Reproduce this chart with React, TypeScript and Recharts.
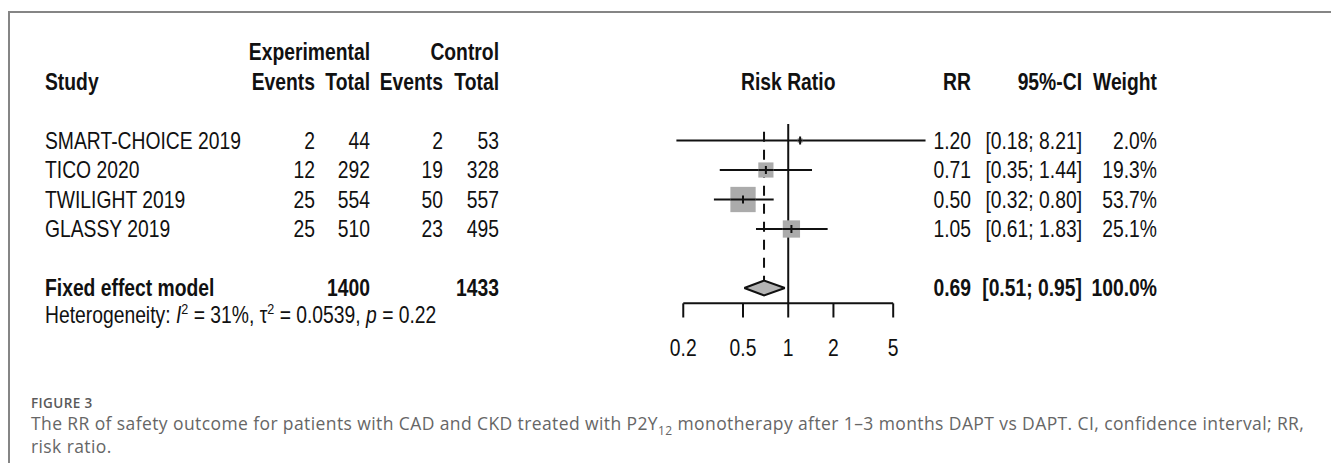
import React from 'react'
import { ComposedChart, XAxis, YAxis, Scatter, ErrorBar, Area, ReferenceLine } from 'recharts'

// study table
const STUDIES = ['SMART-CHOICE 2019', 'TICO 2020', 'TWILIGHT 2019', 'GLASSY 2019']
const EXP_EVENTS = [2, 12, 25, 25]
const EXP_TOTAL = [44, 292, 554, 510]
const CTRL_EVENTS = [2, 19, 50, 23]
const CTRL_TOTAL = [53, 328, 557, 495]
const RR = [1.2, 0.71, 0.5, 1.05]
const CI_LOW = [0.18, 0.35, 0.32, 0.61]
const CI_HIGH = [8.21, 1.44, 0.8, 1.83]
const WEIGHT = [2.0, 19.3, 53.7, 25.1]

// fixed effect model
const POOLED_RR = 0.69
const POOLED_LOW = 0.51
const POOLED_HIGH = 0.95
const POOLED_EXP_TOTAL = 1400
const POOLED_CTRL_TOTAL = 1433
const POOLED_WEIGHT = 100.0

const TICKS = [0.2, 0.5, 1, 2, 5]

// row layout (y axis units, one unit per table row)
const ROW_HEAD1 = -3
const ROW_HEAD2 = -2
const ROW_POOLED = 5
const ROW_HET = 5.9
const ROW_AXIS = 5.52
const ROW_TICK_END = 6.0
const ROW_TICK_LABEL = 7.03

const W = 1331
const H = 463
const INK = '#111'
const BOX = '#ababab'
const FONT = "'Liberation Sans', Arial, Helvetica, sans-serif"

// text columns (right edges unless noted)
const COL_STUDY = 45
const COL_EXP_EV = 315
const COL_EXP_TOT = 370
const COL_CTRL_EV = 443
const COL_CTRL_TOT = 499
const COL_RR = 971
const COL_CI = 1082
const COL_WEIGHT = 1157

const fmtCi = (lo: number, hi: number) => `[${lo.toFixed(2)}; ${hi.toFixed(2)}]`

function T({ x, y, anchor = 'end', bold = false, children }: any) {
  return (
    <text
      transform={`translate(${x} ${y + 8.3}) scale(0.84 1)`}
      textAnchor={anchor}
      fontFamily={FONT}
      fontSize={23}
      fontWeight={bold ? 700 : 400}
      fill={INK}
    >
      {children}
    </text>
  )
}

const rowData = [
  { x: 1, y: ROW_HEAD1, kind: 'head1' },
  { x: 1, y: ROW_HEAD2, kind: 'head2' },
  ...STUDIES.map((_, i) => ({ x: 1, y: i, kind: 'study', i })),
  { x: 1, y: ROW_POOLED, kind: 'pooled' },
  { x: 1, y: ROW_HET, kind: 'het' },
]

const studyPoints = STUDIES.map((_, i) => ({
  x: RR[i],
  y: i,
  err: [RR[i] - CI_LOW[i], CI_HIGH[i] - RR[i]],
  w: WEIGHT[i],
}))

const diamond = [
  { x: POOLED_LOW, band: [ROW_POOLED, ROW_POOLED] },
  { x: POOLED_RR, band: [ROW_POOLED - 0.25, ROW_POOLED + 0.25] },
  { x: POOLED_HIGH, band: [ROW_POOLED, ROW_POOLED] },
]

const tickLabels = TICKS.map((t) => ({ x: t, y: ROW_TICK_LABEL }))

function RowShape(props: any) {
  const { cx, cy, payload } = props
  const k = payload.kind
  if (k === 'head1') {
    return (
      <g>
        <T x={COL_EXP_TOT} y={cy} bold>Experimental</T>
        <T x={COL_CTRL_TOT} y={cy} bold>Control</T>
      </g>
    )
  }
  if (k === 'head2') {
    return (
      <g>
        <T x={COL_STUDY} y={cy} anchor="start" bold>Study</T>
        <T x={COL_EXP_EV} y={cy} bold>Events</T>
        <T x={COL_EXP_TOT} y={cy} bold>Total</T>
        <T x={COL_CTRL_EV} y={cy} bold>Events</T>
        <T x={COL_CTRL_TOT} y={cy} bold>Total</T>
        <T x={cx} y={cy} anchor="middle" bold>Risk Ratio</T>
        <T x={COL_RR} y={cy} bold>RR</T>
        <T x={COL_CI} y={cy} bold>95%-CI</T>
        <T x={COL_WEIGHT} y={cy} bold>Weight</T>
      </g>
    )
  }
  if (k === 'study') {
    const i = payload.i
    return (
      <g>
        <T x={COL_STUDY} y={cy} anchor="start">{STUDIES[i]}</T>
        <T x={COL_EXP_EV} y={cy}>{EXP_EVENTS[i]}</T>
        <T x={COL_EXP_TOT} y={cy}>{EXP_TOTAL[i]}</T>
        <T x={COL_CTRL_EV} y={cy}>{CTRL_EVENTS[i]}</T>
        <T x={COL_CTRL_TOT} y={cy}>{CTRL_TOTAL[i]}</T>
        <T x={COL_RR} y={cy}>{RR[i].toFixed(2)}</T>
        <T x={COL_CI} y={cy}>{fmtCi(CI_LOW[i], CI_HIGH[i])}</T>
        <T x={COL_WEIGHT} y={cy}>{WEIGHT[i].toFixed(1)}%</T>
      </g>
    )
  }
  if (k === 'pooled') {
    return (
      <g>
        <T x={COL_STUDY} y={cy} anchor="start" bold>Fixed effect model</T>
        <T x={COL_EXP_TOT} y={cy} bold>{POOLED_EXP_TOTAL}</T>
        <T x={COL_CTRL_TOT} y={cy} bold>{POOLED_CTRL_TOTAL}</T>
        <T x={COL_RR} y={cy} bold>{POOLED_RR.toFixed(2)}</T>
        <T x={COL_CI} y={cy} bold>{fmtCi(POOLED_LOW, POOLED_HIGH)}</T>
        <T x={COL_WEIGHT} y={cy} bold>{POOLED_WEIGHT.toFixed(1)}%</T>
      </g>
    )
  }
  return (
    <T x={COL_STUDY} y={cy} anchor="start">
      Heterogeneity: <tspan fontStyle="italic">I</tspan>
      <tspan fontSize={15} dy={-9}>2</tspan>
      <tspan dy={9}> = 31%, τ</tspan>
      <tspan fontSize={15} dy={-9}>2</tspan>
      <tspan dy={9}> = 0.0539, </tspan>
      <tspan fontStyle="italic">p</tspan> = 0.22
    </T>
  )
}

function BoxShape({ cx, cy, payload }: any) {
  const s = 3.45 * Math.sqrt(payload.w)
  return (
    <g>
      <rect x={cx - s / 2} y={cy - s / 2} width={s} height={s} fill={BOX} />
      <line x1={cx - s / 2} x2={cx + s / 2} y1={cy} y2={cy} stroke={INK} strokeWidth={2} />
      <line x1={cx} x2={cx} y1={cy - 4} y2={cy + 4} stroke={INK} strokeWidth={2} />
    </g>
  )
}

function TickLabel({ cx, cy, payload }: any) {
  return <T x={cx} y={cy} anchor="middle">{payload.x}</T>
}

export default function App() {
  return (
    <div style={{ position: 'absolute', left: 0, top: 0, width: W, height: H, background: '#fff', overflow: 'hidden' }}>
      <div
        style={{
          position: 'absolute',
          left: 8,
          top: 11,
          width: W,
          height: H,
          borderTop: '2px solid #858585',
          borderLeft: '2px solid #858585',
        }}
      />
      <div style={{ position: 'absolute', left: 0, top: 0 }}>
        <ComposedChart width={W} height={H} margin={{ top: 7.75, right: 392.6, bottom: 101.25, left: 664.5 }}>
          <XAxis type="number" dataKey="x" scale="log" domain={[0.15, 10]} hide />
          <YAxis type="number" dataKey="y" domain={[-4.5, 7.5]} reversed hide />
          <ReferenceLine
            segment={[{ x: 1, y: -0.56 }, { x: 1, y: ROW_AXIS }]}
            stroke={INK}
            strokeWidth={2}
          />
          <ReferenceLine
            segment={[{ x: POOLED_RR, y: -0.3 }, { x: POOLED_RR, y: ROW_POOLED - 0.25 }]}
            stroke={INK}
            strokeWidth={2}
            strokeDasharray="10 8"
          />
          <ReferenceLine
            segment={[{ x: TICKS[0], y: ROW_AXIS }, { x: TICKS[TICKS.length - 1], y: ROW_AXIS }]}
            stroke={INK}
            strokeWidth={2}
          />
          {TICKS.map((t) => (
            <ReferenceLine
              key={t}
              segment={[{ x: t, y: ROW_AXIS }, { x: t, y: ROW_TICK_END }]}
              stroke={INK}
              strokeWidth={2}
            />
          ))}
          <Area
            data={diamond}
            dataKey="band"
            type="linear"
            fill="#b5b5b5"
            fillOpacity={1}
            stroke={INK}
            strokeWidth={2}
            dot={false}
            activeDot={false}
            isAnimationActive={false}
          />
          <Scatter data={studyPoints} shape={BoxShape} isAnimationActive={false}>
            <ErrorBar dataKey="err" direction="x" width={0} stroke={INK} strokeWidth={2} />
          </Scatter>
          <Scatter data={rowData} shape={RowShape} isAnimationActive={false} />
          <Scatter data={tickLabels} shape={TickLabel} isAnimationActive={false} />
        </ComposedChart>
      </div>
      <div
        style={{
          position: 'absolute',
          left: 31,
          top: 394,
          fontFamily: "'Open Sans', 'Noto Sans', sans-serif",
          color: '#666',
        }}
      >
        <div style={{ fontSize: 13.5, fontWeight: 600, letterSpacing: 0.4, lineHeight: '18px', color: '#5a5a5a' }}>
          FIGURE 3
        </div>
        <div style={{ fontSize: 17.5, letterSpacing: 0.4, lineHeight: '23px', width: 1285 }}>
          The RR of safety outcome for patients with CAD and CKD treated with P2Y<sub style={{ fontSize: 12, lineHeight: 0 }}>12</sub> monotherapy
          after 1–3 months DAPT vs DAPT. CI, confidence interval; RR, risk ratio.
        </div>
      </div>
    </div>
  )
}
